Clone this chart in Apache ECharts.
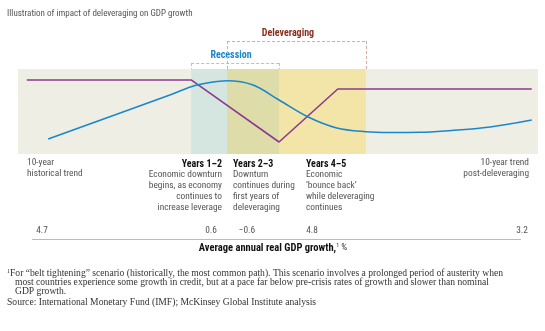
<!DOCTYPE html>
<html><head><meta charset="utf-8">
<script src="https://cdn.jsdelivr.net/npm/echarts@6/dist/echarts.min.js"></script>
<style>html,body{margin:0;padding:0;background:#fff}#c{width:545px;height:331px}</style>
</head><body><div id="c"></div>
<script>
// Conceptual time axis 0..100; y index 0..100 inside the shaded panel
const gdpPath = [[1.7,87.1],[33.3,87.1],[50.2,14.1],[61.5,76.5],[98.8,76.5]];
const debtPath = [[5.8,17.6],[29.2,69.4],[33.3,79.2],[36.9,84.1],[40.2,86.2],[45.2,81.2],[50.2,63.5],[55.8,43.5],[61.3,30.6],[66.9,26.2],[71.5,25.3],[77.3,25.5],[82.1,27.1],[90.8,31.8],[98.8,40.0]];
const phaseBounds = [33.3, 40.2, 50.2, 66.9]; // recession start, deleveraging start, recession end, deleveraging end
const growthValues = ['4.7','0.6','\u22120.6','4.8','3.2'];
const phaseHeads = ['Years 1\u20132','Years 2\u20133','Years 4\u20135'];
const phaseTexts = ['Economic downturn\nbegins, as economy\ncontinues to\nincrease leverage','Downturn\ncontinues during\nfirst years of\ndeleveraging','Economic\n\u2018bounce back\u2019\nwhile deleveraging\ncontinues'];

const NARROW = '"Liberation Sans Narrow","Roboto Condensed","Arial Narrow",sans-serif';
const SERIF = '"Liberation Serif","DejaVu Serif",serif';
const FS = '9.4px ';
const chart = echarts.init(document.getElementById('c'));
const [rS, dS, rE, dE] = phaseBounds;
const dash = (x1,y1,x2,y2,c)=>[{coord:[x1,y1],lineStyle:{color:c}},{coord:[x2,y2]}];
const RC='#9fc9e3', DC='#d9aaa2';
chart.setOption({
  animation:false,
  grid:{left:18,width:520,top:18,height:136},
  xAxis:{type:'value',min:0,max:100,show:false},
  yAxis:{type:'value',min:0,max:160,show:false},
  series:[
    {type:'line',data:[],silent:true,
     markArea:{silent:true,data:[
       [{coord:[0,0],itemStyle:{color:'#efeee4'}},{coord:[100,100]}],
       [{coord:[rS,0],itemStyle:{color:'#d5e5e0'}},{coord:[dS,100]}],
       [{coord:[dS,0],itemStyle:{color:'#dedda9'}},{coord:[rE,100]}],
       [{coord:[rE,0],itemStyle:{color:'#f3e4a7'}},{coord:[dE,100]}]
     ]},
     markLine:{silent:true,symbol:'none',label:{show:false},lineStyle:{type:[3,2],width:1},data:[
       dash(rS,107,rE,107,RC),dash(rS,107,rS,100,RC),dash(rE,107,rE,100,RC),
       dash(dS,133,dE,133,DC),dash(dS,133,dS,100,DC),dash(dE,133,dE,100,DC)
     ]}},
    {type:'line',data:gdpPath,symbol:'none',lineStyle:{color:'#8c3a8e',width:1.6},z:5},
    {type:'line',data:debtPath,symbol:'none',smooth:0.35,lineStyle:{color:'#1b87cb',width:1.6},z:6}
  ],
  graphic:[
    {type:'text',left:7,top:9,style:{text:'Illustration of impact of deleveraging on GDP growth',font:'9px '+NARROW,fill:'#555'}},
    {type:'text',x:288,y:33,style:{text:'Deleveraging',font:'bold 10px '+NARROW,fill:'#8a2f1f',textAlign:'center',textVerticalAlign:'middle'}},
    {type:'text',x:231,y:55,style:{text:'Recession',font:'bold 10px '+NARROW,fill:'#1b87cb',textAlign:'center',textVerticalAlign:'middle'}},
    {type:'text',x:27,y:87,style:{text:'Real GDP growth',font:FS+NARROW,fill:'#8c3a8e',textVerticalAlign:'middle'}},
    {type:'text',x:87,y:126.5,style:{text:'Ratio of debt\nto GDP',font:FS+NARROW,fill:'#1b87cb',lineHeight:11}},
    {type:'text',x:27,y:157.5,style:{text:'10-year\nhistorical trend',font:FS+NARROW,fill:'#555',lineHeight:11}},
    {type:'text',x:529,y:157.5,style:{text:'10-year trend\npost-deleveraging',font:FS+NARROW,fill:'#555',lineHeight:11,textAlign:'right'}},
    {type:'text',x:222,y:164,style:{text:phaseHeads[0],font:'bold 10px '+NARROW,fill:'#111',textAlign:'right',textVerticalAlign:'middle'}},
    {type:'text',x:233,y:164,style:{text:phaseHeads[1],font:'bold 10px '+NARROW,fill:'#111',textVerticalAlign:'middle'}},
    {type:'text',x:306,y:164,style:{text:phaseHeads[2],font:'bold 10px '+NARROW,fill:'#111',textVerticalAlign:'middle'}},
    {type:'text',x:222,y:169,style:{text:phaseTexts[0],font:FS+NARROW,fill:'#555',lineHeight:11,textAlign:'right'}},
    {type:'text',x:233,y:169,style:{text:phaseTexts[1],font:FS+NARROW,fill:'#555',lineHeight:11}},
    {type:'text',x:306,y:169,style:{text:phaseTexts[2],font:FS+NARROW,fill:'#555',lineHeight:11}},
    {type:'text',x:42,y:231,style:{text:growthValues[0],font:FS+NARROW,fill:'#555',textAlign:'center',textVerticalAlign:'middle'}},
    {type:'text',x:211,y:231,style:{text:growthValues[1],font:FS+NARROW,fill:'#555',textAlign:'center',textVerticalAlign:'middle'}},
    {type:'text',x:247,y:231,style:{text:growthValues[2],font:FS+NARROW,fill:'#555',textAlign:'center',textVerticalAlign:'middle'}},
    {type:'text',x:312,y:231,style:{text:growthValues[3],font:FS+NARROW,fill:'#555',textAlign:'center',textVerticalAlign:'middle'}},
    {type:'text',x:522,y:231,style:{text:growthValues[4],font:FS+NARROW,fill:'#555',textAlign:'center',textVerticalAlign:'middle'}},
    {type:'line',shape:{x1:32,y1:239.5,x2:521,y2:239.5},style:{stroke:'#bbb',lineWidth:1}},
    {type:'text',x:273,y:248,style:{text:'{b|Average annual real GDP growth,}{s|1}{n| %}',textAlign:'center',textVerticalAlign:'middle',
      rich:{b:{font:'bold 10.5px '+NARROW,fill:'#111'},s:{font:'6px '+NARROW,fill:'#333',verticalAlign:'top',padding:[0,0,5,0]},n:{font:FS+NARROW,fill:'#333'}}}},
    {type:'text',x:7,y:273,style:{text:'{s|1}{t|For \u201cbelt tightening\u201d scenario (historically, the most common path). This scenario involves a prolonged period of austerity when}',textVerticalAlign:'middle',
      rich:{s:{font:'6px '+SERIF,fill:'#333',padding:[0,0,4,0]},t:{font:'9.6px '+SERIF,fill:'#333'}}}},
    {type:'text',x:15,y:282,style:{text:'most countries experience some growth in credit, but at a pace far below pre-crisis rates of growth and slower than nominal',font:'9.6px '+SERIF,fill:'#333',textVerticalAlign:'middle'}},
    {type:'text',x:15,y:291,style:{text:'GDP growth.',font:'9.6px '+SERIF,fill:'#333',textVerticalAlign:'middle'}},
    {type:'text',x:7,y:302,style:{text:'Source: International Monetary Fund (IMF); McKinsey Global Institute analysis',font:'9.6px '+SERIF,fill:'#333',textVerticalAlign:'middle'}}
  ]
});
</script></body></html>
